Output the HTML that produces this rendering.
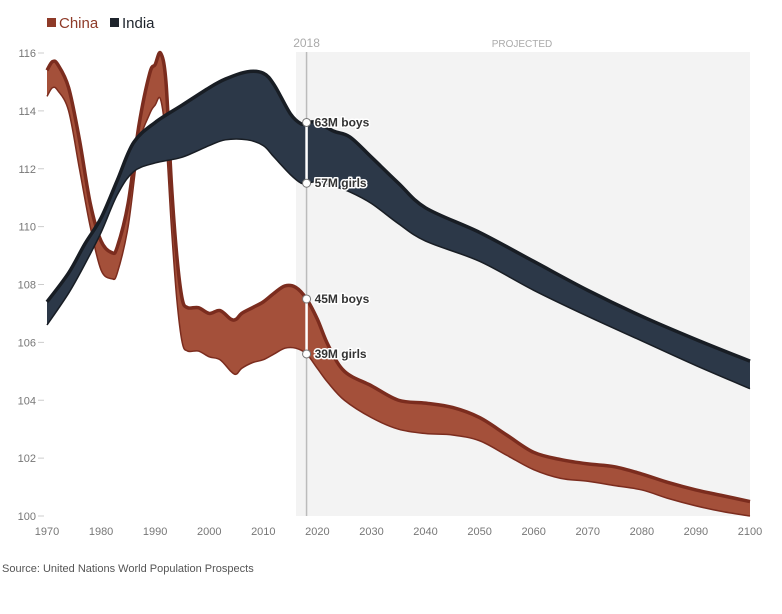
<!DOCTYPE html>
<html><head><meta charset="utf-8"><style>
body{margin:0;background:#fff;font-family:"Liberation Sans",sans-serif}
svg text{font-family:"Liberation Sans",sans-serif}
</style></head><body>
<svg id="chart" width="782" height="609" viewBox="0 0 782 609"></svg>
<script>
const chinaYears=[1970,1971,1972,1974,1976,1978,1980,1982,1983,1985,1987,1989,1990,1991,1992,1993,1994,1995,1996,1998,2000,2002,2004,2005,2006,2008,2010,2012,2014,2016,2018,2020,2022,2025,2030,2035,2040,2045,2050,2055,2060,2065,2070,2075,2080,2085,2090,2095,2100];
const chinaBoys=[115.4,115.7,115.6,114.8,113,110.8,109.5,109.1,109.3,110.8,113.5,115.3,115.6,116.0,115.0,111.5,109,107.5,107.2,107.2,107.0,107.1,106.8,106.8,107.0,107.2,107.4,107.7,107.95,107.9,107.5,106.8,105.9,105.0,104.5,104.0,103.9,103.75,103.4,102.8,102.2,101.95,101.8,101.7,101.45,101.15,100.9,100.7,100.5];
const chinaGirls=[114.5,114.8,114.7,114,112,110,108.5,108.2,108.4,110,112.8,113.9,114.2,114.4,113,110,107.5,106,105.7,105.7,105.5,105.4,105.0,104.9,105.1,105.3,105.4,105.6,105.8,105.8,105.6,105.1,104.6,104.0,103.4,103.0,102.85,102.8,102.6,102.1,101.6,101.3,101.2,101.05,100.9,100.6,100.35,100.15,100.0];
const indiaYears=[1970,1974,1977,1980,1983,1986,1990,1995,2000,2003,2007,2010,2012,2015,2017,2018,2020,2023,2026,2030,2035,2040,2050,2060,2070,2080,2090,2100];
const indiaBoys=[107.4,108.4,109.4,110.3,111.6,112.9,113.6,114.2,114.8,115.1,115.35,115.3,114.9,113.9,113.55,113.6,113.6,113.3,113.1,112.4,111.5,110.65,109.8,108.8,107.8,106.9,106.1,105.35];
const indiaGirls=[106.6,107.7,108.7,109.8,111.1,111.9,112.2,112.4,112.8,113.0,113.0,112.8,112.4,111.8,111.5,111.5,111.55,111.4,111.2,110.8,110.1,109.5,108.8,107.8,106.9,106.05,105.2,104.4];
const yTicks=[100,102,104,106,108,110,112,114,116];
const xTicks=[1970,1980,1990,2000,2010,2020,2030,2040,2050,2060,2070,2080,2090,2100];

const NS="http://www.w3.org/2000/svg";
const svg=document.getElementById('chart');
const X=y=>47+(y-1970)*(703/130);
const Y=v=>516-(v-100)*(463/16);
function mk(t,a,p){const e=document.createElementNS(NS,t);for(const k in a)e.setAttribute(k,a[k]);(p||svg).appendChild(e);return e;}
function pts(xs,vs){return xs.map((y,i)=>[X(y),Y(vs[i])]);}
function curve(p,move){let d=move?`M${p[0][0]},${p[0][1]}`:`L${p[0][0]},${p[0][1]}`;
 for(let i=0;i<p.length-1;i++){const p0=p[i-1]||p[i],p1=p[i],p2=p[i+1],p3=p[i+2]||p2;
 const c1=[p1[0]+(p2[0]-p0[0])/6,p1[1]+(p2[1]-p0[1])/6],c2=[p2[0]-(p3[0]-p1[0])/6,p2[1]-(p3[1]-p1[1])/6];
 d+=`C${c1[0]},${c1[1]} ${c2[0]},${c2[1]} ${p2[0]},${p2[1]}`;}return d;}

// projected bg
const bg=mk('rect',{x:296,y:52,width:454,height:464,fill:'#f3f3f3'});


const l18=mk('line',{x1:X(2018),x2:X(2018),y1:52,y2:516,stroke:'#bbb','stroke-width':1.5});


let t=mk('text',{x:X(2018),y:47,'text-anchor':'middle','font-size':12,fill:'#aaa'});t.textContent='2018';


t=mk('text',{x:522,y:47,'text-anchor':'middle','font-size':10,fill:'#aaa'});t.textContent='PROJECTED';



// y axis
yTicks.forEach(v=>{const tx=mk('text',{x:36,y:Y(v)+4,'text-anchor':'end','font-size':11,fill:'#777'});tx.textContent=v;
 
 
 mk('line',{x1:38,x2:44,y1:Y(v),y2:Y(v),stroke:'#ccc'});});
xTicks.forEach(v=>{const tx=mk('text',{x:X(v),y:535,'text-anchor':'middle','font-size':11,fill:'#777'});tx.textContent=v;
 
 });

function band(xs,up,lo,fill,stroke,name){
 const pu=pts(xs,up),pl=pts(xs,lo).reverse();
 const a=mk('path',{d:curve(pu,true)+curve(pl,false)+'Z',fill:fill});
 
 
 const b=mk('path',{d:curve(pts(xs,lo),true),fill:'none',stroke:stroke,'stroke-width':1.5});
 
 
 const c=mk('path',{d:curve(pu,true),fill:'none',stroke:stroke,'stroke-width':3.5,'stroke-linejoin':'round'});
 
 
}
band(chinaYears,chinaBoys,chinaGirls,'#a4503a','#7b2c1e','china');
band(indiaYears,indiaBoys,indiaGirls,'#2c3848','#181d24','india');

function interp(xs,vs,yr){for(let i=0;i<xs.length-1;i++)if(yr>=xs[i]&&yr<=xs[i+1])return vs[i]+(vs[i+1]-vs[i])*(yr-xs[i])/(xs[i+1]-xs[i]);return vs[0];}
function annot(xs,up,lo,tu,tl,name){
 const x=X(2018),yu=Y(interp(xs,up,2018)),yl=Y(interp(xs,lo,2018));
 mk('line',{x1:x,x2:x,y1:yu,y2:yl,stroke:'#fff','stroke-width':2.5});
 [[yu,tu,'boys'],[yl,tl,'girls']].forEach(([yy,s,k])=>{
  const c=mk('circle',{cx:x,cy:yy,r:4,fill:'#fff',stroke:'#777','stroke-width':1});
  
  
  const tx=mk('text',{x:x+8,y:yy+4,'font-size':12,'font-weight':'bold',fill:'#333',stroke:'#fff','stroke-width':3,'paint-order':'stroke','stroke-linejoin':'round'});tx.textContent=s;
  
  
 });
}
annot(indiaYears,indiaBoys,indiaGirls,'63M boys','57M girls','india');
annot(chinaYears,chinaBoys,chinaGirls,'45M boys','39M girls','china');

// legend
const g1=mk('g',{});
mk('rect',{x:47,y:18,width:9,height:9,fill:'#8e3a28'},g1);
t=mk('text',{x:59,y:28,'font-size':15,fill:'#8e3a28'},g1);t.textContent='China';
const g2=mk('g',{});
mk('rect',{x:110,y:18,width:9,height:9,fill:'#1e242c'},g2);
t=mk('text',{x:122,y:28,'font-size':15,fill:'#1e242c'},g2);t.textContent='India';

t=mk('text',{x:2,y:572,'font-size':11,fill:'#555'});t.textContent='Source: United Nations World Population Prospects';


</script>
</body></html>
